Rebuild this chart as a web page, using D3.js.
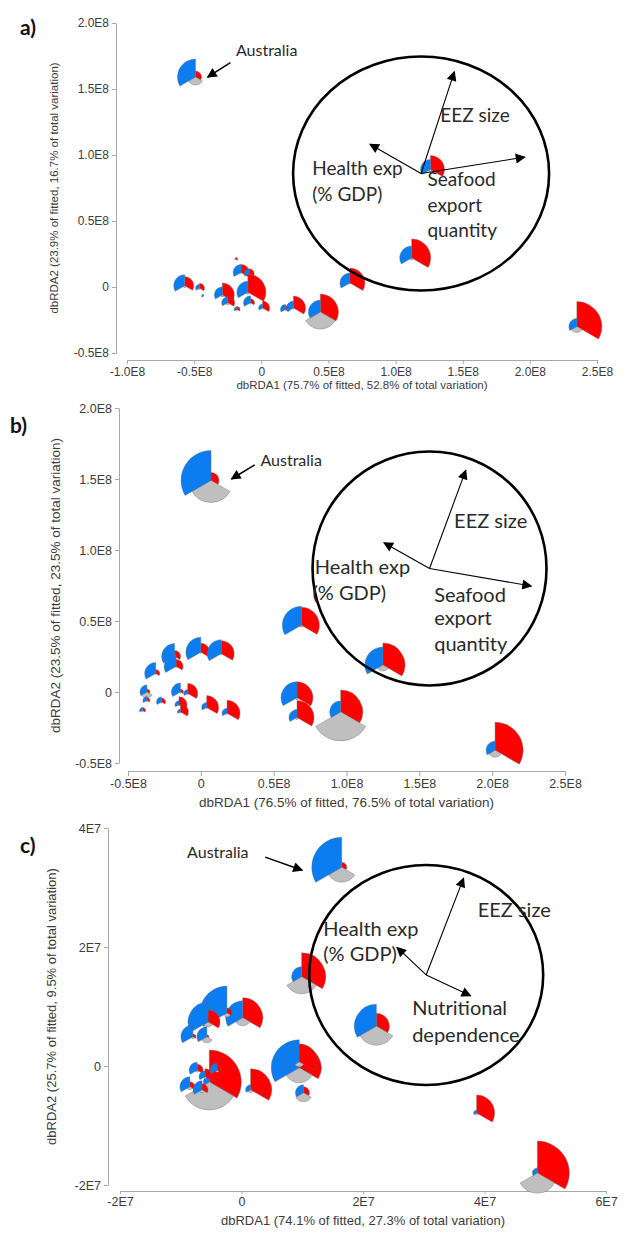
<!DOCTYPE html>
<html>
<head><meta charset="utf-8"/>
<script src="https://d3js.org/d3.v7.min.js"></script>
<style>
  body { margin: 0; background: #fff; }
  svg { display: block; }
  .axis text { font-family: "Liberation Sans", Arial, sans-serif; fill: #3c3c3c; }
  .axis path, .axis line { stroke: #a8a8a8; }
  .ttl { font-family: "Liberation Sans", Arial, sans-serif; fill: #3c3c3c; }
  .lbl { font-family: Lato, "Open Sans", sans-serif; fill: #2a2a2a; }
  .tag { font-family: Lato, "Open Sans", sans-serif; font-weight: bold; fill: #111; }
</style>
</head>
<body>
<svg width="624" height="1236"></svg>
<script>

// ---- tick labels ----
var e8Ticks = [-1, -0.5, 0, 0.5, 1, 1.5, 2, 2.5];
var e8Labels = ["-1.0E8", "-0.5E8", "0", "0.5E8", "1.0E8", "1.5E8", "2.0E8", "2.5E8"];
var e7Ticks = [-2, 0, 2, 4, 6];
var e7Labels = ["-2E7", "0", "2E7", "4E7", "6E7"];

// ---- glyphs: [dbRDA1, dbRDA2, blue value, red value, grey value] ----
// panel a (axes in units of 1E8)
var glyphsA = [
  [-0.49, 1.59, 18, 6, 8],
  [-0.57, 0.01, 11, 9, 2],
  [-0.46, -0.01, 4, 5, 1],
  [-0.29, -0.06, 8, 12, 2],
  [-0.25, -0.12, 6, 7, 2],
  [-0.18, -0.17, 3, 3, 1],
  [-0.15, 0.11, 8, 8, 1],
  [-0.09, 0.10, 5, 5, 1],
  [-0.10, -0.04, 11, 18, 2],
  [-0.08, -0.12, 7, 4, 1],
  [0.01, -0.16, 4, 7, 1],
  [0.18, -0.17, 5, 4, 1],
  [0.24, -0.16, 7, 12, 1],
  [0.44, -0.19, 12, 18, 17],
  [0.66, 0.03, 10, 15, 1],
  [1.12, 0.22, 12, 19, 2],
  [2.35, -0.30, 8, 25, 6],
  [1.26, 0.89, 10, 14, 2],
  [-0.19, 0.21, 1, 2, 0],
  [-0.43, -0.07, 2, 0, 0]
];
// panel b (units of 1E8)
var glyphsB = [
  [0.07, 1.49, 30, 8, 22],
  [0.69, 0.47, 19, 18, 2],
  [1.25, 0.19, 18, 22, 6],
  [0.96, -0.14, 11, 22, 29],
  [0.66, -0.04, 16, 16, 2],
  [0.66, -0.18, 8, 17, 2],
  [0.00, 0.28, 15, 9, 1],
  [0.14, 0.27, 14, 13, 1],
  [-0.18, 0.25, 13, 6, 1],
  [-0.17, 0.18, 12, 7, 1],
  [-0.31, 0.13, 11, 4, 1],
  [-0.37, 0.00, 7, 3, 6],
  [-0.14, 0.00, 9, 3, 1],
  [-0.09, -0.01, 4, 10, 1],
  [-0.27, -0.07, 5, 4, 1],
  [-0.15, -0.09, 4, 8, 1],
  [-0.14, -0.14, 3, 8, 1],
  [0.04, -0.11, 5, 12, 1],
  [0.18, -0.15, 5, 13, 1],
  [-0.40, -0.13, 3, 3, 1],
  [-0.37, -0.06, 4, 3, 1],
  [2.02, -0.41, 9, 28, 7]
];
// panel c (units of 1E7)
var glyphsC = [
  [1.65, 3.34, 30, 5, 15],
  [0.99, 1.50, 10, 24, 17],
  [2.22, 0.67, 22, 13, 19],
  [0.95, -0.03, 28, 22, 15],
  [0.95, 0.07, 15, 18, 5],
  [1.02, -0.45, 8, 6, 9],
  [0.15, -0.40, 5, 21, 3],
  [-0.53, -0.27, 6, 32, 28],
  [0.02, 0.81, 17, 20, 8],
  [-0.24, 0.89, 27, 5, 4],
  [-0.55, 0.74, 20, 12, 5],
  [-0.80, 0.49, 12, 3, 2],
  [-0.57, 0.49, 10, 2, 6],
  [-0.73, -0.07, 8, 6, 2],
  [-0.60, -0.18, 6, 8, 2],
  [-0.85, -0.35, 10, 5, 3],
  [-0.40, -0.07, 7, 4, 2],
  [-0.65, -0.40, 9, 6, 3],
  [3.87, -0.79, 3, 18, 2],
  [4.87, -1.80, 5, 32, 20]
];

// ---- biplot vectors (unit circle coordinates) ----
var vectorsA = [[0.26, 0.87], [-0.40, 0.25], [0.81, 0.14]];
var vectorsB = [[0.31, 0.84], [-0.39, 0.22], [0.87, -0.15]];
var vectorsC = [[0.32, 0.88], [-0.25, 0.25], [0.38, -0.19]];

var vecLabelsA = [["EEZ size", 0.15, 0.48], ["Health exp", -0.85, 0.03], ["(% GDP)", -0.85, -0.19],
                  ["Seafood", 0.05, -0.07], ["export", 0.05, -0.29], ["quantity", 0.05, -0.50]];
var vecLabelsB = [["EEZ size", 0.21, 0.39], ["Health exp", -0.98, 0.0], ["(% GDP)", -1.0, -0.23],
                  ["Seafood", 0.04, -0.24], ["export", 0.04, -0.44], ["quantity", 0.04, -0.66]];
var vecLabelsC = [["EEZ size", 0.44, 0.57], ["Health exp", -0.88, 0.40], ["(% GDP)", -0.88, 0.17],
                  ["Nutritional", -0.12, -0.32], ["dependence", -0.12, -0.56]];

// Australia callout: [label x, label y, arrow from x, from y, to x, to y] in data units
var ausA = [0.04, 1.78, -0.23, 1.70, -0.40, 1.59];
var ausB = [0.62, 1.62, 0.37, 1.60, 0.21, 1.50];
var ausC = [-0.39, 3.56, 0.39, 3.51, 1.00, 3.29];

var svg = d3.select("svg");
var defs = svg.append("defs");
defs.append("marker").attr("id", "tri")
  .attr("viewBox", "0 0 10 10").attr("refX", 9).attr("refY", 5)
  .attr("markerWidth", 13).attr("markerHeight", 10)
  .attr("markerUnits", "userSpaceOnUse").attr("orient", "auto")
  .append("path").attr("d", "M0,0L10,5L0,10z").attr("fill", "#000");

var segs = [
  {i: 3, color: "#ff0000", a0: 0, a1: 2 * Math.PI / 3},
  {i: 4, color: "#bfbfbf", a0: 2 * Math.PI / 3, a1: 4 * Math.PI / 3},
  {i: 2, color: "#0b7df0", a0: 4 * Math.PI / 3, a1: 2 * Math.PI}
];
var arc = d3.arc().innerRadius(0);
var rScale = d3.scaleLinear().domain([0, 30]).range([0, 30]);

function drawPanel(p) {
  var x = d3.scaleLinear().domain(p.xDomain).range(p.xRange);
  var y = d3.scaleLinear().domain(p.yDomain).range(p.yRange);

  var xTickVals = p.xTicks.filter(function(t) { return t >= p.xDomain[0] && t <= p.xDomain[1]; });
  var xAx = d3.axisBottom(x).tickValues(xTickVals).tickSize(p.xTick).tickSizeOuter(0)
    .tickFormat(function(d) { return p.xLabels[p.xTicks.indexOf(d)]; });
  svg.append("g").attr("class", "axis").attr("transform", "translate(0," + p.xAxisY + ")")
    .call(xAx).selectAll("text").style("font-size", p.tickFont + "px");

  var yTickVals = p.xTicks.filter(function(t) { return t >= p.yDomain[0] && t <= p.yDomain[1]; });
  var yAx = d3.axisLeft(y).tickValues(yTickVals).tickSize(4).tickSizeOuter(0)
    .tickFormat(function(d) { return p.xLabels[p.xTicks.indexOf(d)]; });
  svg.append("g").attr("class", "axis").attr("transform", "translate(" + p.yAxisX + ",0)")
    .call(yAx).selectAll("text").style("font-size", p.tickFont + "px");

  svg.append("text").attr("class", "ttl")
    .attr("x", (p.xRange[0] + p.xRange[1]) / 2).attr("y", p.xTitleY)
    .attr("text-anchor", "middle").style("font-size", p.titleFont + "px").text(p.xTitle);
  svg.append("text").attr("class", "ttl")
    .attr("transform", "translate(" + p.yTitleX + "," + (p.yRange[0] + p.yRange[1]) / 2 + ") rotate(-90)")
    .attr("text-anchor", "middle").style("font-size", p.titleFont + "px").text(p.yTitle);

  svg.append("text").attr("class", "tag").attr("x", p.tag[1]).attr("y", p.tag[2])
    .style("font-size", "21px").text(p.tag[0]);

  // segmented bubbles
  var g = svg.append("g").selectAll("g").data(p.glyphs).enter().append("g")
    .attr("transform", function(d) { return "translate(" + x(d[0]) + "," + y(d[1]) + ")"; });
  segs.forEach(function(s) {
    g.append("path")
      .attr("d", function(d) { return arc({outerRadius: rScale(d[s.i]), startAngle: s.a0, endAngle: s.a1}); })
      .attr("fill", s.color).attr("stroke", "#666").attr("stroke-width", 0.5).attr("stroke-opacity", 0.75);
  });

  // vector circle
  var cx = x(p.circle[0]), cy = y(p.circle[1]);
  var ux = d3.scaleLinear().domain([-1, 1]).range([cx - p.circle[2], cx + p.circle[2]]);
  var uy = d3.scaleLinear().domain([-1, 1]).range([cy + p.circle[3], cy - p.circle[3]]);
  svg.append("ellipse").attr("cx", cx).attr("cy", cy).attr("rx", p.circle[2]).attr("ry", p.circle[3])
    .attr("fill", "none").attr("stroke", "#000").attr("stroke-width", 2.6);
  svg.append("g").selectAll("line").data(p.vectors).enter().append("line")
    .attr("x1", ux(0)).attr("y1", uy(0))
    .attr("x2", function(d) { return ux(d[0]); }).attr("y2", function(d) { return uy(d[1]); })
    .attr("stroke", "#000").attr("stroke-width", 1.1).attr("marker-end", "url(#tri)");
  svg.append("g").selectAll("text").data(p.vecLabels).enter().append("text").attr("class", "lbl")
    .attr("x", function(d) { return ux(d[1]); }).attr("y", function(d) { return uy(d[2]); })
    .attr("dominant-baseline", "middle").style("font-size", p.vecFont + "px")
    .text(function(d) { return d[0]; });

  // Australia callout
  var a = p.aus;
  svg.append("text").attr("class", "lbl").attr("x", x(a[0])).attr("y", y(a[1]))
    .attr("text-anchor", "middle").attr("dominant-baseline", "middle").style("font-size", "16px")
    .text("Australia");
  svg.append("line").attr("x1", x(a[2])).attr("y1", y(a[3])).attr("x2", x(a[4])).attr("y2", y(a[5]))
    .attr("stroke", "#000").attr("stroke-width", 1.5).attr("marker-end", "url(#tri)");
}

drawPanel({
  tag: ["a)", 20, 35],
  glyphs: glyphsA, xTicks: e8Ticks, xLabels: e8Labels,
  xDomain: [-1, 2.5], xRange: [127, 597], xAxisY: 360, xTick: 4,
  yDomain: [-0.5, 2], yRange: [353, 23], yAxisX: 116,
  tickFont: 12, titleFont: 11.5, xTitleY: 389, yTitleX: 58,
  xTitle: "dbRDA1 (75.7% of fitted, 52.8% of total variation)",
  yTitle: "dbRDA2 (23.9% of fitted, 16.7% of total variation)",
  circle: [1.19, 0.86, 128, 117], vectors: vectorsA, vecLabels: vecLabelsA, vecFont: 19,
  aus: ausA
});
drawPanel({
  tag: ["b)", 10, 433],
  glyphs: glyphsB, xTicks: e8Ticks, xLabels: e8Labels,
  xDomain: [-0.5, 2.5], xRange: [128, 565], xAxisY: 771, xTick: 5,
  yDomain: [-0.5, 2], yRange: [763, 408], yAxisX: 119,
  tickFont: 12.5, titleFont: 13.5, xTitleY: 807, yTitleX: 60,
  xTitle: "dbRDA1 (76.5% of fitted, 76.5% of total variation)",
  yTitle: "dbRDA2 (23.5% of fitted, 23.5% of total variation)",
  circle: [1.57, 0.87, 117, 117], vectors: vectorsB, vecLabels: vecLabelsB, vecFont: 20,
  aus: ausB
});
drawPanel({
  tag: ["c)", 20, 853],
  glyphs: glyphsC, xTicks: e7Ticks, xLabels: e7Labels,
  xDomain: [-2, 6], xRange: [120, 606], xAxisY: 1191, xTick: 3,
  yDomain: [-2, 4], yRange: [1185, 828], yAxisX: 108,
  tickFont: 12.5, titleFont: 13, xTitleY: 1225, yTitleX: 56,
  xTitle: "dbRDA1 (74.1% of fitted, 27.3% of total variation)",
  yTitle: "dbRDA2 (25.7% of fitted, 9.5% of total variation)",
  circle: [3.04, 1.53, 117, 110], vectors: vectorsC, vecLabels: vecLabelsC, vecFont: 20,
  aus: ausC
});
</script>
</body>
</html>
